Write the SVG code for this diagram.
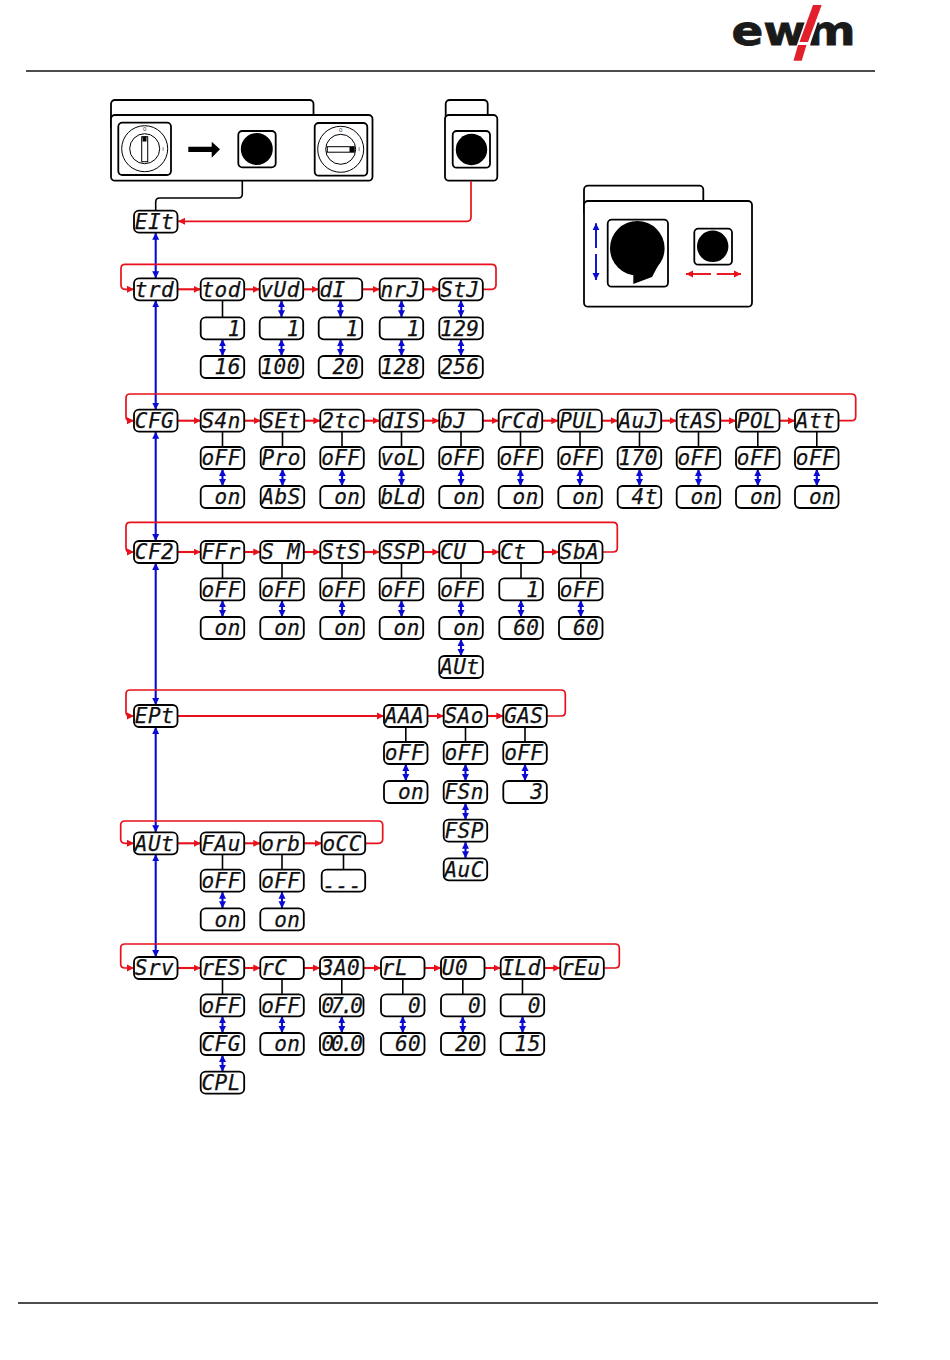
<svg xmlns="http://www.w3.org/2000/svg" width="950" height="1360" viewBox="0 0 950 1360">
<style>
.bg{fill:#fff}
.n{fill:#fff;stroke:#000;stroke-width:1.8}
.t{font-family:"DejaVu Sans Mono","Liberation Mono",monospace;font-style:italic;font-size:21px;letter-spacing:.4px;text-anchor:end;fill:#111;stroke:#111;stroke-width:.25;white-space:pre;transform:translate(-.5px,1.2px)}
.p{fill:#fff;stroke:#000;stroke-width:1.8}
.k{fill:#000}
.w{fill:#fff;stroke:#000;stroke-width:1}
.s{font-family:"Liberation Sans",Arial,sans-serif;font-size:6px;text-anchor:middle;fill:#333}
.r{fill:none;stroke:#e8101a;stroke-width:2.1;marker-end:url(#ar)}
.rl{fill:none;stroke:#e8101a;stroke-width:1.7;marker-end:url(#ar)}
.b{fill:none;stroke:#0a0ad2;stroke-width:2.1;marker-start:url(#ab);marker-end:url(#ab)}
.b1{fill:none;stroke:#0a0ad2;stroke-width:1.9;marker-end:url(#ab)}
.r1{fill:none;stroke:#e8101a;stroke-width:1.9;marker-end:url(#ar)}
.l{fill:none;stroke:#000;stroke-width:1.6}
.h{stroke:#111;stroke-width:1.3}
</style>
<defs>
<marker id="ar" markerUnits="userSpaceOnUse" markerWidth="8" markerHeight="8" refX="7" refY="4" orient="auto-start-reverse"><path d="M0 .5L7 4L0 7.5z" fill="#e8101a"/></marker>
<marker id="ab" markerUnits="userSpaceOnUse" markerWidth="8" markerHeight="8" refX="7" refY="4" orient="auto-start-reverse"><path d="M0 .5L7 4L0 7.5z" fill="#0a0ad2"/></marker>
</defs>
<rect class="bg" width="950" height="1360"/>
<g id="logo">
<text x="731.5" y="45" font-family="'DejaVu Sans',sans-serif" font-weight="700" font-size="41" textLength="124" lengthAdjust="spacingAndGlyphs" fill="#1a1a1a" stroke="#1a1a1a" stroke-width=".8">ewm</text>
<polygon points="811,4 824,4 804,62 791,62" fill="#fff"/>
<polygon points="813,5 821.7,5 808,42 799.5,42" fill="#e2202c"/>
<polygon points="798,45 806.5,45 801.7,60.7 793.5,60.7" fill="#e2202c"/>
</g>
<line class="h" x1="26" y1="71" x2="875" y2="71"/>
<line class="h" x1="18" y1="1303" x2="878" y2="1303"/>

<g id="panel-a">
<rect class="p" x="111" y="100" width="202.5" height="30" rx="4"/>
<rect class="p" x="111" y="115" width="261.5" height="65.7" rx="4"/>
<rect class="p" x="118.3" y="122.7" width="52.7" height="52.3" rx="4"/>
<circle class="w" cx="144.7" cy="148.7" r="23"/><circle class="w" cx="144.7" cy="148.7" r="15"/>
<rect class="w" x="141.7" y="136.7" width="6" height="25"/><rect x="142.5" y="136.5" width="4" height="5" class="k"/>
<text class="s" x="144.7" y="131">0</text><text class="s" x="163" y="151">I</text>
<polygon class="k" points="188.3,146.7 211.7,146.7 211.7,141.7 220,149.3 211.7,157.7 211.7,152 188.3,152"/>
<rect class="p" x="238.3" y="131" width="37.4" height="36.3" rx="4"/><circle class="k" cx="256.8" cy="149" r="16"/>
<rect class="p" x="314.7" y="123" width="52.6" height="52.7" rx="4"/>
<circle class="w" cx="340.7" cy="149.3" r="23"/><circle class="w" cx="340.7" cy="149.3" r="15"/>
<rect class="w" x="327.3" y="146.7" width="27" height="5.5"/><rect x="349.5" y="147" width="4.5" height="5" class="k"/>
<text class="s" x="340.7" y="132">0</text><text class="s" x="359" y="151">I</text>
</g>
<g id="panel-b">
<rect class="p" x="445.7" y="100" width="42" height="30" rx="4"/>
<rect class="p" x="445" y="115" width="52.3" height="65.7" rx="4"/>
<rect class="p" x="452.7" y="131" width="37.3" height="36.7" rx="4"/><circle class="k" cx="471.5" cy="149.5" r="15.7"/>
</g>
<g id="panel-c">
<rect class="p" x="584" y="185.7" width="119.3" height="30" rx="4"/>
<rect class="p" x="584" y="201" width="168" height="105.7" rx="4"/>
<rect class="p" x="607.7" y="219.7" width="60.3" height="67" rx="4"/>
<circle class="k" cx="637.3" cy="248.3" r="27.3"/><polygon class="k" points="633.3,268 633.3,284 652,277 660,262"/>
<rect class="p" x="694.3" y="228.7" width="37.7" height="36" rx="4"/><circle class="k" cx="712.7" cy="246.3" r="15.7"/>
<path class="b1" d="M596 248V223.3"/><path class="b1" d="M596 254V280"/>
<path class="r1" d="M711 274H686"/><path class="r1" d="M716.7 274H741"/>
</g>

<g id="connectors">
<path class="l" d="M242.3 181V194Q242.3 198 238.3 198H159.7Q155.7 198 155.7 202V210.7"/>
<path class="rl" d="M471 181V217Q471 221.3 467 221.3H178"/>
<path class="b" d="M155.7 232.7V278.3"/><path class="b" d="M155.7 300.3V409.7"/><path class="b" d="M155.7 431.7V541"/><path class="b" d="M155.7 563V705"/><path class="b" d="M155.7 727V832.3"/><path class="b" d="M155.7 854.3V957"/>

<path class="rl" d="M483 289.3H491.5Q496 289.3 496 285V268.5Q496 264.3 491.5 264.3H125Q121 264.3 121 268.5V285Q121 289.3 125 289.3H134"/>
<path class="rl" d="M839 420.7H851.5Q855.7 420.7 855.7 416.5V398Q855.7 394 851.5 394H130Q126 394 126 398V416.5Q126 420.7 130 420.7H134"/>
<path class="rl" d="M602.5 552H613Q617.3 552 617.3 548V526.5Q617.3 522.3 613 522.3H130Q126 522.3 126 526.5V548Q126 552 130 552H134"/>
<path class="rl" d="M547 716H561Q565.3 716 565.3 712V694Q565.3 690 561 690H130Q126 690 126 694V712Q126 716 130 716H134"/>
<path class="rl" d="M365 843.3H378.5Q382.7 843.3 382.7 839V825Q382.7 821 378.5 821H125Q120.7 821 120.7 825V839Q120.7 843.3 125 843.3H134"/>
<path class="rl" d="M604 968H615Q619.3 968 619.3 964V948Q619.3 944 615 944H125Q120.7 944 120.7 948V964Q120.7 968 125 968H134"/>

<path class="r" d="M177.5 289.3H200.7"/><path class="r" d="M244.2 289.3H259.7"/><path class="r" d="M303.2 289.3H318.7"/><path class="r" d="M362.2 289.3H379.7"/><path class="r" d="M423.2 289.3H439.3"/>
<path class="r" d="M177.5 420.7H200.7"/><path class="r" d="M244.2 420.7H260.7"/><path class="r" d="M304.2 420.7H320.3"/><path class="r" d="M363.8 420.7H379.7"/><path class="r" d="M423.2 420.7H439.3"/><path class="r" d="M482.8 420.7H498.7"/><path class="r" d="M542.2 420.7H558.3"/><path class="r" d="M601.8 420.7H617.7"/><path class="r" d="M661.2 420.7H676.7"/><path class="r" d="M720.2 420.7H736"/><path class="r" d="M779.5 420.7H795"/>
<path class="r" d="M177.5 552H200.7"/><path class="r" d="M244.2 552H260.3"/><path class="r" d="M303.8 552H320.3"/><path class="r" d="M363.8 552H379.7"/><path class="r" d="M423.2 552H439.3"/><path class="r" d="M482.8 552H499.3"/><path class="r" d="M542.8 552H559"/>
<path class="r" d="M177.5 716H384"/><path class="r" d="M427.5 716H443.7"/><path class="r" d="M487.2 716H503.3"/>
<path class="r" d="M177.5 843.3H200.7"/><path class="r" d="M244.2 843.3H260.3"/><path class="r" d="M303.8 843.3H321.7"/>
<path class="r" d="M177.5 968H200.7"/><path class="r" d="M244.2 968H260.3"/><path class="r" d="M303.8 968H320"/><path class="r" d="M363.5 968H381"/><path class="r" d="M424.5 968H441"/><path class="r" d="M484.5 968H500.7"/><path class="r" d="M544.2 968H560.3"/>

<path class="l" d="M222.5 300V317.3"/>
<path class="b" d="M222.5 339.3V356"/>
<path class="b" d="M281.5 300.3V317.3"/><path class="b" d="M281.5 339.3V356"/>
<path class="b" d="M340.5 300.3V317.3"/><path class="b" d="M340.5 339.3V356"/>
<path class="b" d="M401.5 300.3V317.3"/><path class="b" d="M401.5 339.3V356"/>
<path class="b" d="M461 300.3V317.3"/><path class="b" d="M461 339.3V356"/>

<path class="l" d="M222.5 431.7V447M282.5 431.7V447M342 431.7V447M401.5 431.7V447M461 431.7V447M520.5 431.7V447M580 431.7V447M639.5 431.7V447M698.5 431.7V447M757.8 431.7V447M816.8 431.7V447"/>
<path class="b" d="M222.5 469V486"/><path class="b" d="M282.5 469V486"/><path class="b" d="M342 469V486"/><path class="b" d="M401.5 469V486"/><path class="b" d="M461 469V486"/><path class="b" d="M520.5 469V486"/><path class="b" d="M580 469V486"/><path class="b" d="M639.5 469V486"/><path class="b" d="M698.5 469V486"/><path class="b" d="M757.8 469V486"/><path class="b" d="M816.8 469V486"/>

<path class="l" d="M222.5 563V578.3M282 563V578.3M342 563V578.3M401.5 563V578.3M461 563V578.3M521 563V578.3M580.8 563V578.3"/>
<path class="b" d="M222.5 600.3V617"/><path class="b" d="M282 600.3V617"/><path class="b" d="M342 600.3V617"/><path class="b" d="M401.5 600.3V617"/><path class="b" d="M461 600.3V617"/><path class="b" d="M521 600.3V617"/><path class="b" d="M580.8 600.3V617"/>
<path class="b" d="M461 639V656"/>

<path class="l" d="M405.8 727V742M465.5 727V742M525 727V742"/>
<path class="b" d="M405.8 764V781"/><path class="b" d="M465.5 764V781"/><path class="b" d="M525 764V781"/>
<path class="b" d="M465.5 803V819.7"/><path class="b" d="M465.5 841.7V858.3"/>

<path class="l" d="M222.5 854.3V869.7M282 854.3V869.7M343.5 854.3V869.7"/>
<path class="b" d="M222.5 891.7V908.3"/><path class="b" d="M282 891.7V908.3"/>

<path class="l" d="M222.5 979V994.3M282 979V994.3M341.8 979V994.3M402.8 979V994.3M462.8 979V994.3M522.5 979V994.3"/>
<path class="b" d="M222.5 1016.3V1033"/><path class="b" d="M282 1016.3V1033"/><path class="b" d="M341.8 1016.3V1033"/><path class="b" d="M402.8 1016.3V1033"/><path class="b" d="M462.8 1016.3V1033"/><path class="b" d="M522.5 1016.3V1033"/>
<path class="b" d="M222.5 1055V1071.7"/>
</g>

<g id="elt"><rect class="n" x="134" y="210.7" width="43.5" height="22" rx="5"/><text class="t" x="174.5" y="228">EIt</text></g>

<g id="trd"><rect class="n" x="134" y="278.3" width="43.5" height="22" rx="5"/><text class="t" x="174.5" y="295.6">trd</text></g>
<g id="tod"><rect class="n" x="200.7" y="278.3" width="43.5" height="22" rx="5"/><text class="t" x="241.2" y="295.6">tod</text></g>
<g id="vUd"><rect class="n" x="259.7" y="278.3" width="43.5" height="22" rx="5"/><text class="t" x="300.2" y="295.6">vUd</text></g>
<g id="dI"><rect class="n" x="318.7" y="278.3" width="43.5" height="22" rx="5"/><text class="t" x="359.2" y="295.6">dI </text></g>
<g id="nrJ"><rect class="n" x="379.7" y="278.3" width="43.5" height="22" rx="5"/><text class="t" x="420.2" y="295.6">nrJ</text></g>
<g id="StJ"><rect class="n" x="439.3" y="278.3" width="43.5" height="22" rx="5"/><text class="t" x="479.8" y="295.6">StJ</text></g>
<g id="tod-1"><rect class="n" x="200.7" y="317.3" width="43.5" height="22" rx="5"/><text class="t" x="241.2" y="334.6">1</text></g>
<g id="vUd-1"><rect class="n" x="259.7" y="317.3" width="43.5" height="22" rx="5"/><text class="t" x="300.2" y="334.6">1</text></g>
<g id="dI-1"><rect class="n" x="318.7" y="317.3" width="43.5" height="22" rx="5"/><text class="t" x="359.2" y="334.6">1</text></g>
<g id="nrJ-1"><rect class="n" x="379.7" y="317.3" width="43.5" height="22" rx="5"/><text class="t" x="420.2" y="334.6">1</text></g>
<g id="StJ-129"><rect class="n" x="439.3" y="317.3" width="43.5" height="22" rx="5"/><text class="t" x="479.8" y="334.6">129</text></g>
<g id="tod-16"><rect class="n" x="200.7" y="356" width="43.5" height="22" rx="5"/><text class="t" x="241.2" y="373.3">16</text></g>
<g id="vUd-100"><rect class="n" x="259.7" y="356" width="43.5" height="22" rx="5"/><text class="t" x="300.2" y="373.3">100</text></g>
<g id="dI-20"><rect class="n" x="318.7" y="356" width="43.5" height="22" rx="5"/><text class="t" x="359.2" y="373.3">20</text></g>
<g id="nrJ-128"><rect class="n" x="379.7" y="356" width="43.5" height="22" rx="5"/><text class="t" x="420.2" y="373.3">128</text></g>
<g id="StJ-256"><rect class="n" x="439.3" y="356" width="43.5" height="22" rx="5"/><text class="t" x="479.8" y="373.3">256</text></g>

<g id="CFG"><rect class="n" x="134" y="409.7" width="43.5" height="22" rx="5"/><text class="t" x="174.5" y="427">CFG</text></g>
<g id="S4n"><rect class="n" x="200.7" y="409.7" width="43.5" height="22" rx="5"/><text class="t" x="241.2" y="427">S4n</text></g>
<g id="SEt"><rect class="n" x="260.7" y="409.7" width="43.5" height="22" rx="5"/><text class="t" x="301.2" y="427">SEt</text></g>
<g id="c2tc"><rect class="n" x="320.3" y="409.7" width="43.5" height="22" rx="5"/><text class="t" x="360.8" y="427">2tc</text></g>
<g id="dIS"><rect class="n" x="379.7" y="409.7" width="43.5" height="22" rx="5"/><text class="t" x="420.2" y="427">dIS</text></g>
<g id="bJ"><rect class="n" x="439.3" y="409.7" width="43.5" height="22" rx="5"/><text class="t" x="479.8" y="427">bJ </text></g>
<g id="rCd"><rect class="n" x="498.7" y="409.7" width="43.5" height="22" rx="5"/><text class="t" x="539.2" y="427">rCd</text></g>
<g id="PUL"><rect class="n" x="558.3" y="409.7" width="43.5" height="22" rx="5"/><text class="t" x="598.8" y="427">PUL</text></g>
<g id="AuJ"><rect class="n" x="617.7" y="409.7" width="43.5" height="22" rx="5"/><text class="t" x="658.2" y="427">AuJ</text></g>
<g id="tAS"><rect class="n" x="676.7" y="409.7" width="43.5" height="22" rx="5"/><text class="t" x="717.2" y="427">tAS</text></g>
<g id="POL"><rect class="n" x="736" y="409.7" width="43.5" height="22" rx="5"/><text class="t" x="776.5" y="427">POL</text></g>
<g id="Att"><rect class="n" x="795" y="409.7" width="43.5" height="22" rx="5"/><text class="t" x="835.5" y="427">Att</text></g>
<g id="S4n-off"><rect class="n" x="200.7" y="447" width="43.5" height="22" rx="5"/><text class="t" x="241.2" y="464.3">oFF</text></g>
<g id="SEt-pro"><rect class="n" x="260.7" y="447" width="43.5" height="22" rx="5"/><text class="t" x="301.2" y="464.3">Pro</text></g>
<g id="c2tc-off"><rect class="n" x="320.3" y="447" width="43.5" height="22" rx="5"/><text class="t" x="360.8" y="464.3">oFF</text></g>
<g id="dIS-vol"><rect class="n" x="379.7" y="447" width="43.5" height="22" rx="5"/><text class="t" x="420.2" y="464.3">voL</text></g>
<g id="bJ-off"><rect class="n" x="439.3" y="447" width="43.5" height="22" rx="5"/><text class="t" x="479.8" y="464.3">oFF</text></g>
<g id="rCd-off"><rect class="n" x="498.7" y="447" width="43.5" height="22" rx="5"/><text class="t" x="539.2" y="464.3">oFF</text></g>
<g id="PUL-off"><rect class="n" x="558.3" y="447" width="43.5" height="22" rx="5"/><text class="t" x="598.8" y="464.3">oFF</text></g>
<g id="AuJ-170"><rect class="n" x="617.7" y="447" width="43.5" height="22" rx="5"/><text class="t" x="658.2" y="464.3">170</text></g>
<g id="tAS-off"><rect class="n" x="676.7" y="447" width="43.5" height="22" rx="5"/><text class="t" x="717.2" y="464.3">oFF</text></g>
<g id="POL-off"><rect class="n" x="736" y="447" width="43.5" height="22" rx="5"/><text class="t" x="776.5" y="464.3">oFF</text></g>
<g id="Att-off"><rect class="n" x="795" y="447" width="43.5" height="22" rx="5"/><text class="t" x="835.5" y="464.3">oFF</text></g>
<g id="S4n-on"><rect class="n" x="200.7" y="486" width="43.5" height="22" rx="5"/><text class="t" x="241.2" y="503.3">on</text></g>
<g id="SEt-abs"><rect class="n" x="260.7" y="486" width="43.5" height="22" rx="5"/><text class="t" x="301.2" y="503.3">AbS</text></g>
<g id="c2tc-on"><rect class="n" x="320.3" y="486" width="43.5" height="22" rx="5"/><text class="t" x="360.8" y="503.3">on</text></g>
<g id="dIS-bld"><rect class="n" x="379.7" y="486" width="43.5" height="22" rx="5"/><text class="t" x="420.2" y="503.3">bLd</text></g>
<g id="bJ-on"><rect class="n" x="439.3" y="486" width="43.5" height="22" rx="5"/><text class="t" x="479.8" y="503.3">on</text></g>
<g id="rCd-on"><rect class="n" x="498.7" y="486" width="43.5" height="22" rx="5"/><text class="t" x="539.2" y="503.3">on</text></g>
<g id="PUL-on"><rect class="n" x="558.3" y="486" width="43.5" height="22" rx="5"/><text class="t" x="598.8" y="503.3">on</text></g>
<g id="AuJ-4t"><rect class="n" x="617.7" y="486" width="43.5" height="22" rx="5"/><text class="t" x="658.2" y="503.3">4t</text></g>
<g id="tAS-on"><rect class="n" x="676.7" y="486" width="43.5" height="22" rx="5"/><text class="t" x="717.2" y="503.3">on</text></g>
<g id="POL-on"><rect class="n" x="736" y="486" width="43.5" height="22" rx="5"/><text class="t" x="776.5" y="503.3">on</text></g>
<g id="Att-on"><rect class="n" x="795" y="486" width="43.5" height="22" rx="5"/><text class="t" x="835.5" y="503.3">on</text></g>

<g id="CF2"><rect class="n" x="134" y="541" width="43.5" height="22" rx="5"/><text class="t" x="174.5" y="558.3">CF2</text></g>
<g id="FFr"><rect class="n" x="200.7" y="541" width="43.5" height="22" rx="5"/><text class="t" x="241.2" y="558.3">FFr</text></g>
<g id="SM"><rect class="n" x="260.3" y="541" width="43.5" height="22" rx="5"/><text class="t" x="300.8" y="558.3">S M</text></g>
<g id="StS"><rect class="n" x="320.3" y="541" width="43.5" height="22" rx="5"/><text class="t" x="360.8" y="558.3">StS</text></g>
<g id="SSP"><rect class="n" x="379.7" y="541" width="43.5" height="22" rx="5"/><text class="t" x="420.2" y="558.3">SSP</text></g>
<g id="CU"><rect class="n" x="439.3" y="541" width="43.5" height="22" rx="5"/><text class="t" x="479.8" y="558.3">CU </text></g>
<g id="Ct"><rect class="n" x="499.3" y="541" width="43.5" height="22" rx="5"/><text class="t" x="539.8" y="558.3">Ct </text></g>
<g id="SbA"><rect class="n" x="559" y="541" width="43.5" height="22" rx="5"/><text class="t" x="599.5" y="558.3">SbA</text></g>
<g id="FFr-off"><rect class="n" x="200.7" y="578.3" width="43.5" height="22" rx="5"/><text class="t" x="241.2" y="595.6">oFF</text></g>
<g id="SM-off"><rect class="n" x="260.3" y="578.3" width="43.5" height="22" rx="5"/><text class="t" x="300.8" y="595.6">oFF</text></g>
<g id="StS-off"><rect class="n" x="320.3" y="578.3" width="43.5" height="22" rx="5"/><text class="t" x="360.8" y="595.6">oFF</text></g>
<g id="SSP-off"><rect class="n" x="379.7" y="578.3" width="43.5" height="22" rx="5"/><text class="t" x="420.2" y="595.6">oFF</text></g>
<g id="CU-off"><rect class="n" x="439.3" y="578.3" width="43.5" height="22" rx="5"/><text class="t" x="479.8" y="595.6">oFF</text></g>
<g id="Ct-1"><rect class="n" x="499.3" y="578.3" width="43.5" height="22" rx="5"/><text class="t" x="539.8" y="595.6">1</text></g>
<g id="SbA-off"><rect class="n" x="559" y="578.3" width="43.5" height="22" rx="5"/><text class="t" x="599.5" y="595.6">oFF</text></g>
<g id="FFr-on"><rect class="n" x="200.7" y="617" width="43.5" height="22" rx="5"/><text class="t" x="241.2" y="634.3">on</text></g>
<g id="SM-on"><rect class="n" x="260.3" y="617" width="43.5" height="22" rx="5"/><text class="t" x="300.8" y="634.3">on</text></g>
<g id="StS-on"><rect class="n" x="320.3" y="617" width="43.5" height="22" rx="5"/><text class="t" x="360.8" y="634.3">on</text></g>
<g id="SSP-on"><rect class="n" x="379.7" y="617" width="43.5" height="22" rx="5"/><text class="t" x="420.2" y="634.3">on</text></g>
<g id="CU-on"><rect class="n" x="439.3" y="617" width="43.5" height="22" rx="5"/><text class="t" x="479.8" y="634.3">on</text></g>
<g id="Ct-60"><rect class="n" x="499.3" y="617" width="43.5" height="22" rx="5"/><text class="t" x="539.8" y="634.3">60</text></g>
<g id="SbA-60"><rect class="n" x="559" y="617" width="43.5" height="22" rx="5"/><text class="t" x="599.5" y="634.3">60</text></g>
<g id="CU-aut"><rect class="n" x="439.3" y="656" width="43.5" height="22" rx="5"/><text class="t" x="479.8" y="673.3">AUt</text></g>

<g id="EPt"><rect class="n" x="134" y="705" width="43.5" height="22" rx="5"/><text class="t" x="174.5" y="722.3">EPt</text></g>
<g id="AAA"><rect class="n" x="384" y="705" width="43.5" height="22" rx="5"/><text class="t" x="424.5" y="722.3">AAA</text></g>
<g id="SAo"><rect class="n" x="443.7" y="705" width="43.5" height="22" rx="5"/><text class="t" x="484.2" y="722.3">SAo</text></g>
<g id="GAS"><rect class="n" x="503.3" y="705" width="43.5" height="22" rx="5"/><text class="t" x="543.8" y="722.3">GAS</text></g>
<g id="AAA-off"><rect class="n" x="384" y="742" width="43.5" height="22" rx="5"/><text class="t" x="424.5" y="759.3">oFF</text></g>
<g id="SAo-off"><rect class="n" x="443.7" y="742" width="43.5" height="22" rx="5"/><text class="t" x="484.2" y="759.3">oFF</text></g>
<g id="GAS-off"><rect class="n" x="503.3" y="742" width="43.5" height="22" rx="5"/><text class="t" x="543.8" y="759.3">oFF</text></g>
<g id="AAA-on"><rect class="n" x="384" y="781" width="43.5" height="22" rx="5"/><text class="t" x="424.5" y="798.3">on</text></g>
<g id="SAo-FSn"><rect class="n" x="443.7" y="781" width="43.5" height="22" rx="5"/><text class="t" x="484.2" y="798.3">FSn</text></g>
<g id="GAS-3"><rect class="n" x="503.3" y="781" width="43.5" height="22" rx="5"/><text class="t" x="543.8" y="798.3">3</text></g>
<g id="SAo-FSP"><rect class="n" x="443.7" y="819.7" width="43.5" height="22" rx="5"/><text class="t" x="484.2" y="837">FSP</text></g>
<g id="SAo-AuC"><rect class="n" x="443.7" y="858.3" width="43.5" height="22" rx="5"/><text class="t" x="484.2" y="875.6">AuC</text></g>

<g id="AUt"><rect class="n" x="134" y="832.3" width="43.5" height="22" rx="5"/><text class="t" x="174.5" y="849.6">AUt</text></g>
<g id="FAu"><rect class="n" x="200.7" y="832.3" width="43.5" height="22" rx="5"/><text class="t" x="241.2" y="849.6">FAu</text></g>
<g id="orb"><rect class="n" x="260.3" y="832.3" width="43.5" height="22" rx="5"/><text class="t" x="300.8" y="849.6">orb</text></g>
<g id="oCC"><rect class="n" x="321.7" y="832.3" width="43.5" height="22" rx="5"/><text class="t" x="362.2" y="849.6">oCC</text></g>
<g id="FAu-off"><rect class="n" x="200.7" y="869.7" width="43.5" height="22" rx="5"/><text class="t" x="241.2" y="887">oFF</text></g>
<g id="orb-off"><rect class="n" x="260.3" y="869.7" width="43.5" height="22" rx="5"/><text class="t" x="300.8" y="887">oFF</text></g>
<g id="oCC-dash"><rect class="n" x="321.7" y="869.7" width="43.5" height="22" rx="5"/><text class="t" x="362.2" y="892">---</text></g>
<g id="FAu-on"><rect class="n" x="200.7" y="908.3" width="43.5" height="22" rx="5"/><text class="t" x="241.2" y="925.6">on</text></g>
<g id="orb-on"><rect class="n" x="260.3" y="908.3" width="43.5" height="22" rx="5"/><text class="t" x="300.8" y="925.6">on</text></g>

<g id="Srv"><rect class="n" x="134" y="957" width="43.5" height="22" rx="5"/><text class="t" x="174.5" y="974.3">Srv</text></g>
<g id="rES"><rect class="n" x="200.7" y="957" width="43.5" height="22" rx="5"/><text class="t" x="241.2" y="974.3">rES</text></g>
<g id="rC"><rect class="n" x="260.3" y="957" width="43.5" height="22" rx="5"/><text class="t" x="300.8" y="974.3">rC </text></g>
<g id="c3A0"><rect class="n" x="320" y="957" width="43.5" height="22" rx="5"/><text class="t" x="360.5" y="974.3">3A0</text></g>
<g id="rL"><rect class="n" x="381" y="957" width="43.5" height="22" rx="5"/><text class="t" x="421.5" y="974.3">rL </text></g>
<g id="U0"><rect class="n" x="441" y="957" width="43.5" height="22" rx="5"/><text class="t" x="481.5" y="974.3">U0 </text></g>
<g id="ILd"><rect class="n" x="500.7" y="957" width="43.5" height="22" rx="5"/><text class="t" x="541.2" y="974.3">ILd</text></g>
<g id="rEu"><rect class="n" x="560.3" y="957" width="43.5" height="22" rx="5"/><text class="t" x="600.8" y="974.3">rEu</text></g>
<g id="rES-off"><rect class="n" x="200.7" y="994.3" width="43.5" height="22" rx="5"/><text class="t" x="241.2" y="1011.6">oFF</text></g>
<g id="rC-off"><rect class="n" x="260.3" y="994.3" width="43.5" height="22" rx="5"/><text class="t" x="300.8" y="1011.6">oFF</text></g>
<g id="c3A0-070"><rect class="n" x="320" y="994.3" width="43.5" height="22" rx="5"/><text class="t" x="360.5" y="1011.6" style="letter-spacing:-3px">07.0</text></g>
<g id="rL-0"><rect class="n" x="381" y="994.3" width="43.5" height="22" rx="5"/><text class="t" x="421.5" y="1011.6">0</text></g>
<g id="U0-0"><rect class="n" x="441" y="994.3" width="43.5" height="22" rx="5"/><text class="t" x="481.5" y="1011.6">0</text></g>
<g id="ILd-0"><rect class="n" x="500.7" y="994.3" width="43.5" height="22" rx="5"/><text class="t" x="541.2" y="1011.6">0</text></g>
<g id="rES-CFG"><rect class="n" x="200.7" y="1033" width="43.5" height="22" rx="5"/><text class="t" x="241.2" y="1050.3">CFG</text></g>
<g id="rC-on"><rect class="n" x="260.3" y="1033" width="43.5" height="22" rx="5"/><text class="t" x="300.8" y="1050.3">on</text></g>
<g id="c3A0-000"><rect class="n" x="320" y="1033" width="43.5" height="22" rx="5"/><text class="t" x="360.5" y="1050.3" style="letter-spacing:-3px">00.0</text></g>
<g id="rL-60"><rect class="n" x="381" y="1033" width="43.5" height="22" rx="5"/><text class="t" x="421.5" y="1050.3">60</text></g>
<g id="U0-20"><rect class="n" x="441" y="1033" width="43.5" height="22" rx="5"/><text class="t" x="481.5" y="1050.3">20</text></g>
<g id="ILd-15"><rect class="n" x="500.7" y="1033" width="43.5" height="22" rx="5"/><text class="t" x="541.2" y="1050.3">15</text></g>
<g id="rES-CPL"><rect class="n" x="200.7" y="1071.7" width="43.5" height="22" rx="5"/><text class="t" x="241.2" y="1089">CPL</text></g>
</svg>
